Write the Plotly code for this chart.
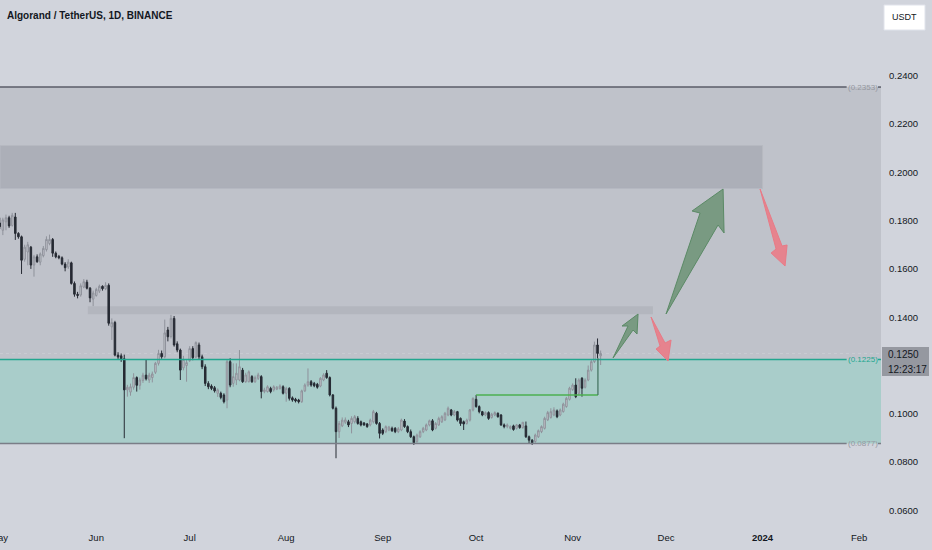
import plotly.graph_objects as go
import pandas as pd

# ---------------- data ----------------
start_date = "2023-05-01"
n_days = 194
dates = pd.date_range(start_date, periods=n_days, freq="D")

opens = [
    .1790, .1760, .1795, .1812, .1780, .1815, .1747, .1733, .1640, .1670,
    .1690, .1616, .1650, .1628, .1655, .1680, .1705, .1722, .1665, .1652,
    .1646, .1620, .1608, .1625, .1540, .1495, .1492, .1525, .1545, .1520,
    .1475, .1490, .1508, .1528, .1518, .1532, .1360, .1378, .1243, .1240,
    .1228, .1099, .1090, .1110, .1150, .1118, .1138, .1160, .1140, .1150,
    .1172, .1209, .1250, .1236, .1347, .1320, .1395, .1290, .1264, .1190,
    .1200, .1220, .1270, .1235, .1285, .1236, .1195, .1126, .1115, .1108,
    .1085, .1085, .1078, .1057, .1216, .1126, .1140, .1140, .1181, .1133,
    .1133, .1154, .1133, .1147, .1154, .1092, .1092, .1105, .1099, .1102,
    .1105, .1112, .1085, .1105, .1066, .1060, .1057, .1050, .1095, .1119,
    .1133, .1126, .1122, .1115, .1140, .1168, .1150, .1078, .1023, .0926,
    .0950, .0965, .0967, .0960, .0967, .0981, .0967, .0962, .0958, .0954,
    .0967, .1002, .0960, .0933, .0926, .0933, .0940, .0940, .0926, .0933,
    .0970, .0947, .0926, .0905, .0885, .0905, .0926, .0933, .0954, .0971,
    .0940, .0954, .0967, .0975, .0995, .1016, .0995, .1009, .0981, .0967,
    .0960, .0974, .1016, .1060, .1030, .1009, .0995, .1005, .0985, .0995,
    .1002, .0995, .0954, .0947, .0940, .0950, .0940, .0954, .0943, .0950,
    .0905, .0891, .0885, .0905, .0926, .0940, .0975, .0985, .0995, .1012,
    .0995, .1009, .1030, .1060, .1100, .1119, .1085, .1147, .1110, .1140,
    .1181, .1216, .1285, .1240,
]
highs = [
    .1812, .1812, .1825, .1820, .1832, .1832, .1752, .1738, .1700, .1712,
    .1695, .1658, .1660, .1668, .1695, .1735, .1742, .1728, .1672, .1658,
    .1652, .1628, .1640, .1630, .1548, .1505, .1540, .1558, .1555, .1525,
    .1510, .1522, .1535, .1532, .1545, .1540, .1395, .1385, .1255, .1250,
    .1245, .1120, .1125, .1168, .1155, .1150, .1170, .1223, .1170, .1175,
    .1215, .1265, .1262, .1390, .1360, .1410, .1405, .1300, .1270, .1240,
    .1225, .1280, .1280, .1300, .1295, .1245, .1205, .1135, .1122, .1115,
    .1105, .1092, .1085, .1225, .1230, .1209, .1209, .1264, .1190, .1170,
    .1180, .1160, .1158, .1170, .1160, .1108, .1118, .1112, .1118, .1115,
    .1122, .1118, .1112, .1110, .1072, .1066, .1062, .1100, .1126, .1188,
    .1140, .1132, .1128, .1152, .1168, .1181, .1155, .1082, .1030, .0970,
    .0985, .0985, .0975, .0990, .0995, .0990, .0972, .0966, .0962, .0980,
    .1016, .1008, .0966, .0940, .0952, .0950, .0947, .0945, .0945, .0980,
    .0978, .0952, .0935, .0910, .0918, .0932, .0946, .0960, .0976, .0978,
    .0966, .0988, .0994, .1008, .1030, .1020, .1016, .1012, .0985, .0972,
    .0980, .1020, .1068, .1078, .1035, .1012, .1010, .1010, .1004, .1010,
    .1006, .0999, .0960, .0960, .0952, .0955, .0958, .0958, .0965, .0968,
    .0910, .0895, .0918, .0935, .0952, .0988, .1012, .1023, .1027, .1018,
    .1022, .1046, .1070, .1112, .1126, .1147, .1147, .1152, .1147, .1200,
    .1223, .1299, .1312, .1262,
]
lows = [
    .1765, .1740, .1760, .1770, .1775, .1720, .1725, .1579, .1630, .1615,
    .1600, .1568, .1625, .1615, .1648, .1672, .1698, .1650, .1644, .1640,
    .1615, .1590, .1600, .1535, .1485, .1478, .1485, .1520, .1515, .1462,
    .1446, .1485, .1500, .1510, .1512, .1365, .1306, .1238, .1225, .1215,
    .0899, .1071, .1075, .1100, .1092, .1100, .1128, .1138, .1128, .1130,
    .1165, .1200, .1228, .1230, .1300, .1312, .1278, .1255, .1140, .1180,
    .1133, .1215, .1222, .1230, .1225, .1185, .1115, .1102, .1098, .1088,
    .1070, .1060, .1043, .1023, .1110, .1112, .1119, .1135, .1128, .1128,
    .1130, .1128, .1128, .1140, .1064, .1085, .1088, .1085, .1092, .1098,
    .1100, .1080, .1050, .1055, .1050, .1047, .1043, .1045, .1090, .1112,
    .1112, .1110, .1104, .1110, .1135, .1145, .1072, .1018, .0816, .0900,
    .0945, .0958, .0945, .0919, .0960, .0955, .0948, .0950, .0942, .0948,
    .0960, .0955, .0898, .0912, .0920, .0928, .0925, .0920, .0920, .0928,
    .0942, .0920, .0900, .0871, .0880, .0900, .0920, .0928, .0948, .0928,
    .0935, .0950, .0962, .0970, .0990, .0990, .0990, .0968, .0950, .0933,
    .0955, .0968, .1010, .1025, .1002, .0990, .0990, .0975, .0980, .0990,
    .0984, .0950, .0940, .0940, .0935, .0930, .0935, .0938, .0938, .0900,
    .0878, .0871, .0880, .0900, .0920, .0935, .0970, .0980, .0990, .0982,
    .0990, .1005, .1025, .1055, .1095, .1065, .1078, .1071, .1105, .1135,
    .1175, .1210, .1230, .1202,
]
closes = [
    .1775, .1803, .1812, .1778, .1822, .1747, .1733, .1636, .1690, .1700,
    .1616, .1650, .1630, .1662, .1685, .1722, .1722, .1665, .1650, .1646,
    .1620, .1605, .1628, .1540, .1495, .1490, .1530, .1547, .1520, .1480,
    .1500, .1515, .1528, .1518, .1532, .1375, .1378, .1243, .1235, .1228,
    .1099, .1110, .1112, .1150, .1118, .1140, .1160, .1145, .1160, .1165,
    .1209, .1250, .1236, .1335, .1319, .1395, .1285, .1264, .1181, .1225,
    .1212, .1270, .1232, .1295, .1236, .1195, .1126, .1112, .1105, .1095,
    .1099, .1068, .1050, .1216, .1119, .1154, .1168, .1195, .1133, .1161,
    .1174, .1133, .1150, .1161, .1092, .1099, .1112, .1092, .1112, .1110,
    .1115, .1085, .1105, .1064, .1057, .1053, .1050, .1095, .1119, .1133,
    .1119, .1116, .1110, .1147, .1161, .1150, .1078, .1023, .0926, .0960,
    .0974, .0975, .0954, .0981, .0988, .0960, .0954, .0954, .0947, .0974,
    .1009, .0960, .0919, .0919, .0947, .0945, .0930, .0926, .0938, .0974,
    .0947, .0926, .0905, .0880, .0912, .0926, .0940, .0954, .0971, .0933,
    .0960, .0981, .0988, .1002, .1023, .0995, .1009, .0974, .0960, .0958,
    .0974, .1016, .1064, .1030, .1009, .0995, .1005, .0981, .0998, .1005,
    .0988, .0954, .0947, .0954, .0947, .0935, .0954, .0943, .0965, .0905,
    .0891, .0880, .0912, .0930, .0947, .0981, .1005, .1009, .1016, .0988,
    .1016, .1040, .1064, .1106, .1119, .1071, .1140, .1106, .1140, .1181,
    .1216, .1285, .1250, .1250,
]

# drawn levels and zones
range_top = 0.2353
range_mid = 0.1225
range_bottom = 0.0877
supply_top = 0.2111
supply_bottom = 0.1933
supply_end = "2024-01-01"
strip_top = 0.1445
strip_bottom = 0.1412
strip_start = "2023-05-29 07:00"
strip_end = "2023-11-26 19:00"
breakout_level = 0.1078
breakout_start = "2023-10-01"
breakout_end = "2023-11-09 03:00"
breakout_wick_top = 0.1230
last_price = 0.1250
countdown = "12:23:17"

y_ticks = [0.06, 0.08, 0.10, 0.14, 0.16, 0.18, 0.20, 0.22, 0.24]
x_tick_dates = ["2023-06-01", "2023-07-01", "2023-08-01", "2023-09-01",
                "2023-10-01", "2023-11-01", "2023-12-01", "2024-01-01", "2024-02-01"]
x_tick_text = ["Jun", "Jul", "Aug", "Sep", "Oct", "Nov", "Dec", "<b>2024</b>", "Feb"]
first_month_label = "May"

x_range = ["2023-05-01 02:00", "2024-02-08 01:00"]
y_range = [0.0552, 0.27135]

# projected path arrows (date, price) outlines
arrow_up_small = [("2023-11-13_23:30", .12311), ("2023-11-18_19:10", .13636),
                  ("2023-11-16_21:00", .13636), ("2023-11-22_00:15", .14133),
                  ("2023-11-21_16:30", .13304), ("2023-11-20_09:50", .13470)]
arrow_up_big = [("2023-12-01_00:00", .14133), ("2023-12-11_22:20", .18315),
                ("2023-12-09_08:40", .18398), ("2023-12-19_07:40", .19308),
                ("2023-12-19_15:20", .17487), ("2023-12-17_17:00", .17818)]
arrow_down_small = [("2023-11-26_04:30", .14008), ("2023-11-30_16:30", .12932),
                    ("2023-12-02_14:40", .13056), ("2023-12-01_15:30", .12186),
                    ("2023-11-27_19:00", .12683), ("2023-11-29_02:00", .12807)]
arrow_down_big = [("2023-12-31_04:50", .19308), ("2024-01-07_06:30", .16948),
                  ("2024-01-08_21:00", .16990), ("2024-01-08_05:30", .16120),
                  ("2024-01-03_17:45", .16658), ("2024-01-05_08:10", .16824)]

# ---------------- styling ----------------
BG = "#d1d4dc"
ZONE_GREY = "#bfc2ca"
SUPPLY = "#acafb8"
STRIP = "#b3b6be"
TEAL_ZONE = "#a9cdca"
TEAL = "#22a68f"
TXT = "#131722"
FONT = "Liberation Sans, Arial, sans-serif"


def path_of(points):
    return "M " + " L ".join(f"{d},{p}" for d, p in points) + " Z"


fig = go.Figure()
fig.add_trace(go.Candlestick(
    x=dates, open=opens, high=highs, low=lows, close=closes,
    increasing=dict(fillcolor="#c8cad0", line=dict(color="#8f929b", width=1)),
    decreasing=dict(fillcolor="#262a33", line=dict(color="#262a33", width=1)),
    whiskerwidth=0, hoverinfo="skip", showlegend=False,
))

shapes = []
shapes.append(dict(type="rect", xref="paper", yref="y", x0=0, x1=1, y0=range_mid, y1=range_top,
                   fillcolor=ZONE_GREY, line=dict(width=0), layer="below"))
shapes.append(dict(type="rect", xref="paper", yref="y", x0=0, x1=1, y0=range_bottom, y1=range_mid,
                   fillcolor=TEAL_ZONE, line=dict(width=0), layer="below"))
shapes.append(dict(type="rect", xref="x", yref="y", x0=x_range[0], x1=supply_end,
                   y0=supply_bottom, y1=supply_top, fillcolor=SUPPLY,
                   line=dict(width=1, color="#b6b9c1"), layer="below"))
shapes.append(dict(type="rect", xref="x", yref="y", x0=strip_start, x1=strip_end,
                   y0=strip_bottom, y1=strip_top, fillcolor=STRIP, line=dict(width=0), layer="below"))
shapes.append(dict(type="line", xref="paper", yref="y", x0=0, x1=1, y0=last_price, y1=last_price,
                   line=dict(color="#c9ccd3", width=1, dash="dot"), layer="below"))
for lvl, col, w in [(range_top, "#5a5d68", 1.5), (range_mid, TEAL, 1.5), (range_bottom, "#7a7d87", 1.5)]:
    shapes.append(dict(type="line", xref="paper", yref="y", x0=0, x1=0.961, y0=lvl, y1=lvl,
                       line=dict(color=col, width=w)))
    shapes.append(dict(type="line", xref="paper", yref="y", x0=0.9966, x1=1.0, y0=lvl, y1=lvl,
                       line=dict(color=col, width=w)))
shapes.append(dict(type="line", xref="x", yref="y", x0=breakout_start, x1=breakout_end,
                   y0=breakout_level, y1=breakout_level, line=dict(color="#4caf50", width=1.5)))
shapes.append(dict(type="line", xref="x", yref="y", x0=breakout_end, x1=breakout_end,
                   y0=breakout_level, y1=breakout_wick_top, line=dict(color="#3f6f5c", width=1.2)))
for pts, fill, edge in [(arrow_up_small, "rgba(98,140,105,0.75)", "#5b8a66"),
                        (arrow_up_big, "rgba(98,140,105,0.75)", "#5b8a66"),
                        (arrow_down_small, "rgba(236,120,132,0.85)", "#e87a86"),
                        (arrow_down_big, "rgba(236,120,132,0.85)", "#e87a86")]:
    shapes.append(dict(type="path", xref="x", yref="y", path=path_of(pts),
                       fillcolor=fill, line=dict(color=edge, width=1)))
shapes.append(dict(type="rect", xref="paper", yref="paper", x0=884 / 881, x1=925 / 881,
                   y0=1 - 30 / 522, y1=1 - 5 / 522, fillcolor="#ffffff",
                   line=dict(color="#e0e3eb", width=1)))
shapes.append(dict(type="rect", xref="paper", yref="paper", x0=882 / 881, x1=929 / 881,
                   y0=1 - 376 / 522, y1=1 - 347 / 522, fillcolor="#9598a0", line=dict(width=0)))

annotations = [
    dict(text="Algorand / TetherUS, 1D, BINANCE", xref="paper", yref="paper", x=5 / 881, y=1 - 15 / 522,
         xanchor="left", yanchor="middle", showarrow=False,
         font=dict(family=FONT, size=10, color=TXT, weight="bold")),
    dict(text="USDT", xref="paper", yref="paper", x=904.5 / 881, y=1 - 17.5 / 522,
         xanchor="center", yanchor="middle", showarrow=False, font=dict(family=FONT, size=9, color=TXT)),
    dict(text=f"{last_price:.4f}", xref="paper", yref="paper", x=886 / 881, y=1 - 354 / 522,
         xanchor="left", yanchor="middle", showarrow=False, font=dict(family=FONT, size=10, color=TXT)),
    dict(text=countdown, xref="paper", yref="paper", x=886 / 881, y=1 - 369 / 522,
         xanchor="left", yanchor="middle", showarrow=False, font=dict(family=FONT, size=10, color=TXT)),
    # month label of the partly visible first tick (cut by the left edge as in the original)
    dict(text=first_month_label, xref="paper", yref="paper", x=-1 / 881, y=-(537 - 522) / 522,
         xanchor="center", yanchor="middle", showarrow=False, font=dict(family=FONT, size=9.5, color=TXT)),
]
for lvl, col in [(range_top, "#9598a1"), (range_mid, TEAL), (range_bottom, "#9598a1")]:
    annotations.append(dict(text=f"({lvl:.4f})", xref="paper", yref="y", x=862.5 / 881, y=lvl,
                            xanchor="center", yanchor="middle", showarrow=False,
                            font=dict(family=FONT, size=8, color=col)))

fig.update_layout(
    width=932, height=550,
    margin=dict(l=0, r=51, t=0, b=28),
    paper_bgcolor=BG, plot_bgcolor=BG,
    shapes=shapes, annotations=annotations,
    showlegend=False, hovermode=False,
    font=dict(family=FONT, color=TXT, size=10),
    xaxis=dict(type="date", range=x_range, rangeslider=dict(visible=False),
               showgrid=False, zeroline=False, showline=False,
               tickvals=x_tick_dates, ticktext=x_tick_text, ticks="",
               ticklabelstandoff=8, tickfont=dict(family=FONT, size=9.5, color=TXT)),
    yaxis=dict(side="right", range=y_range, showgrid=False, zeroline=False, showline=False,
               tickvals=y_ticks, tickformat=".4f", ticks="", ticklabelstandoff=7,
               tickfont=dict(family=FONT, size=9.5, color=TXT)),
)

fig.write_html(
    "out.html",
    config={"displayModeBar": False},
    post_script="document.body.style.margin='0';document.body.style.overflow='hidden';",
)
